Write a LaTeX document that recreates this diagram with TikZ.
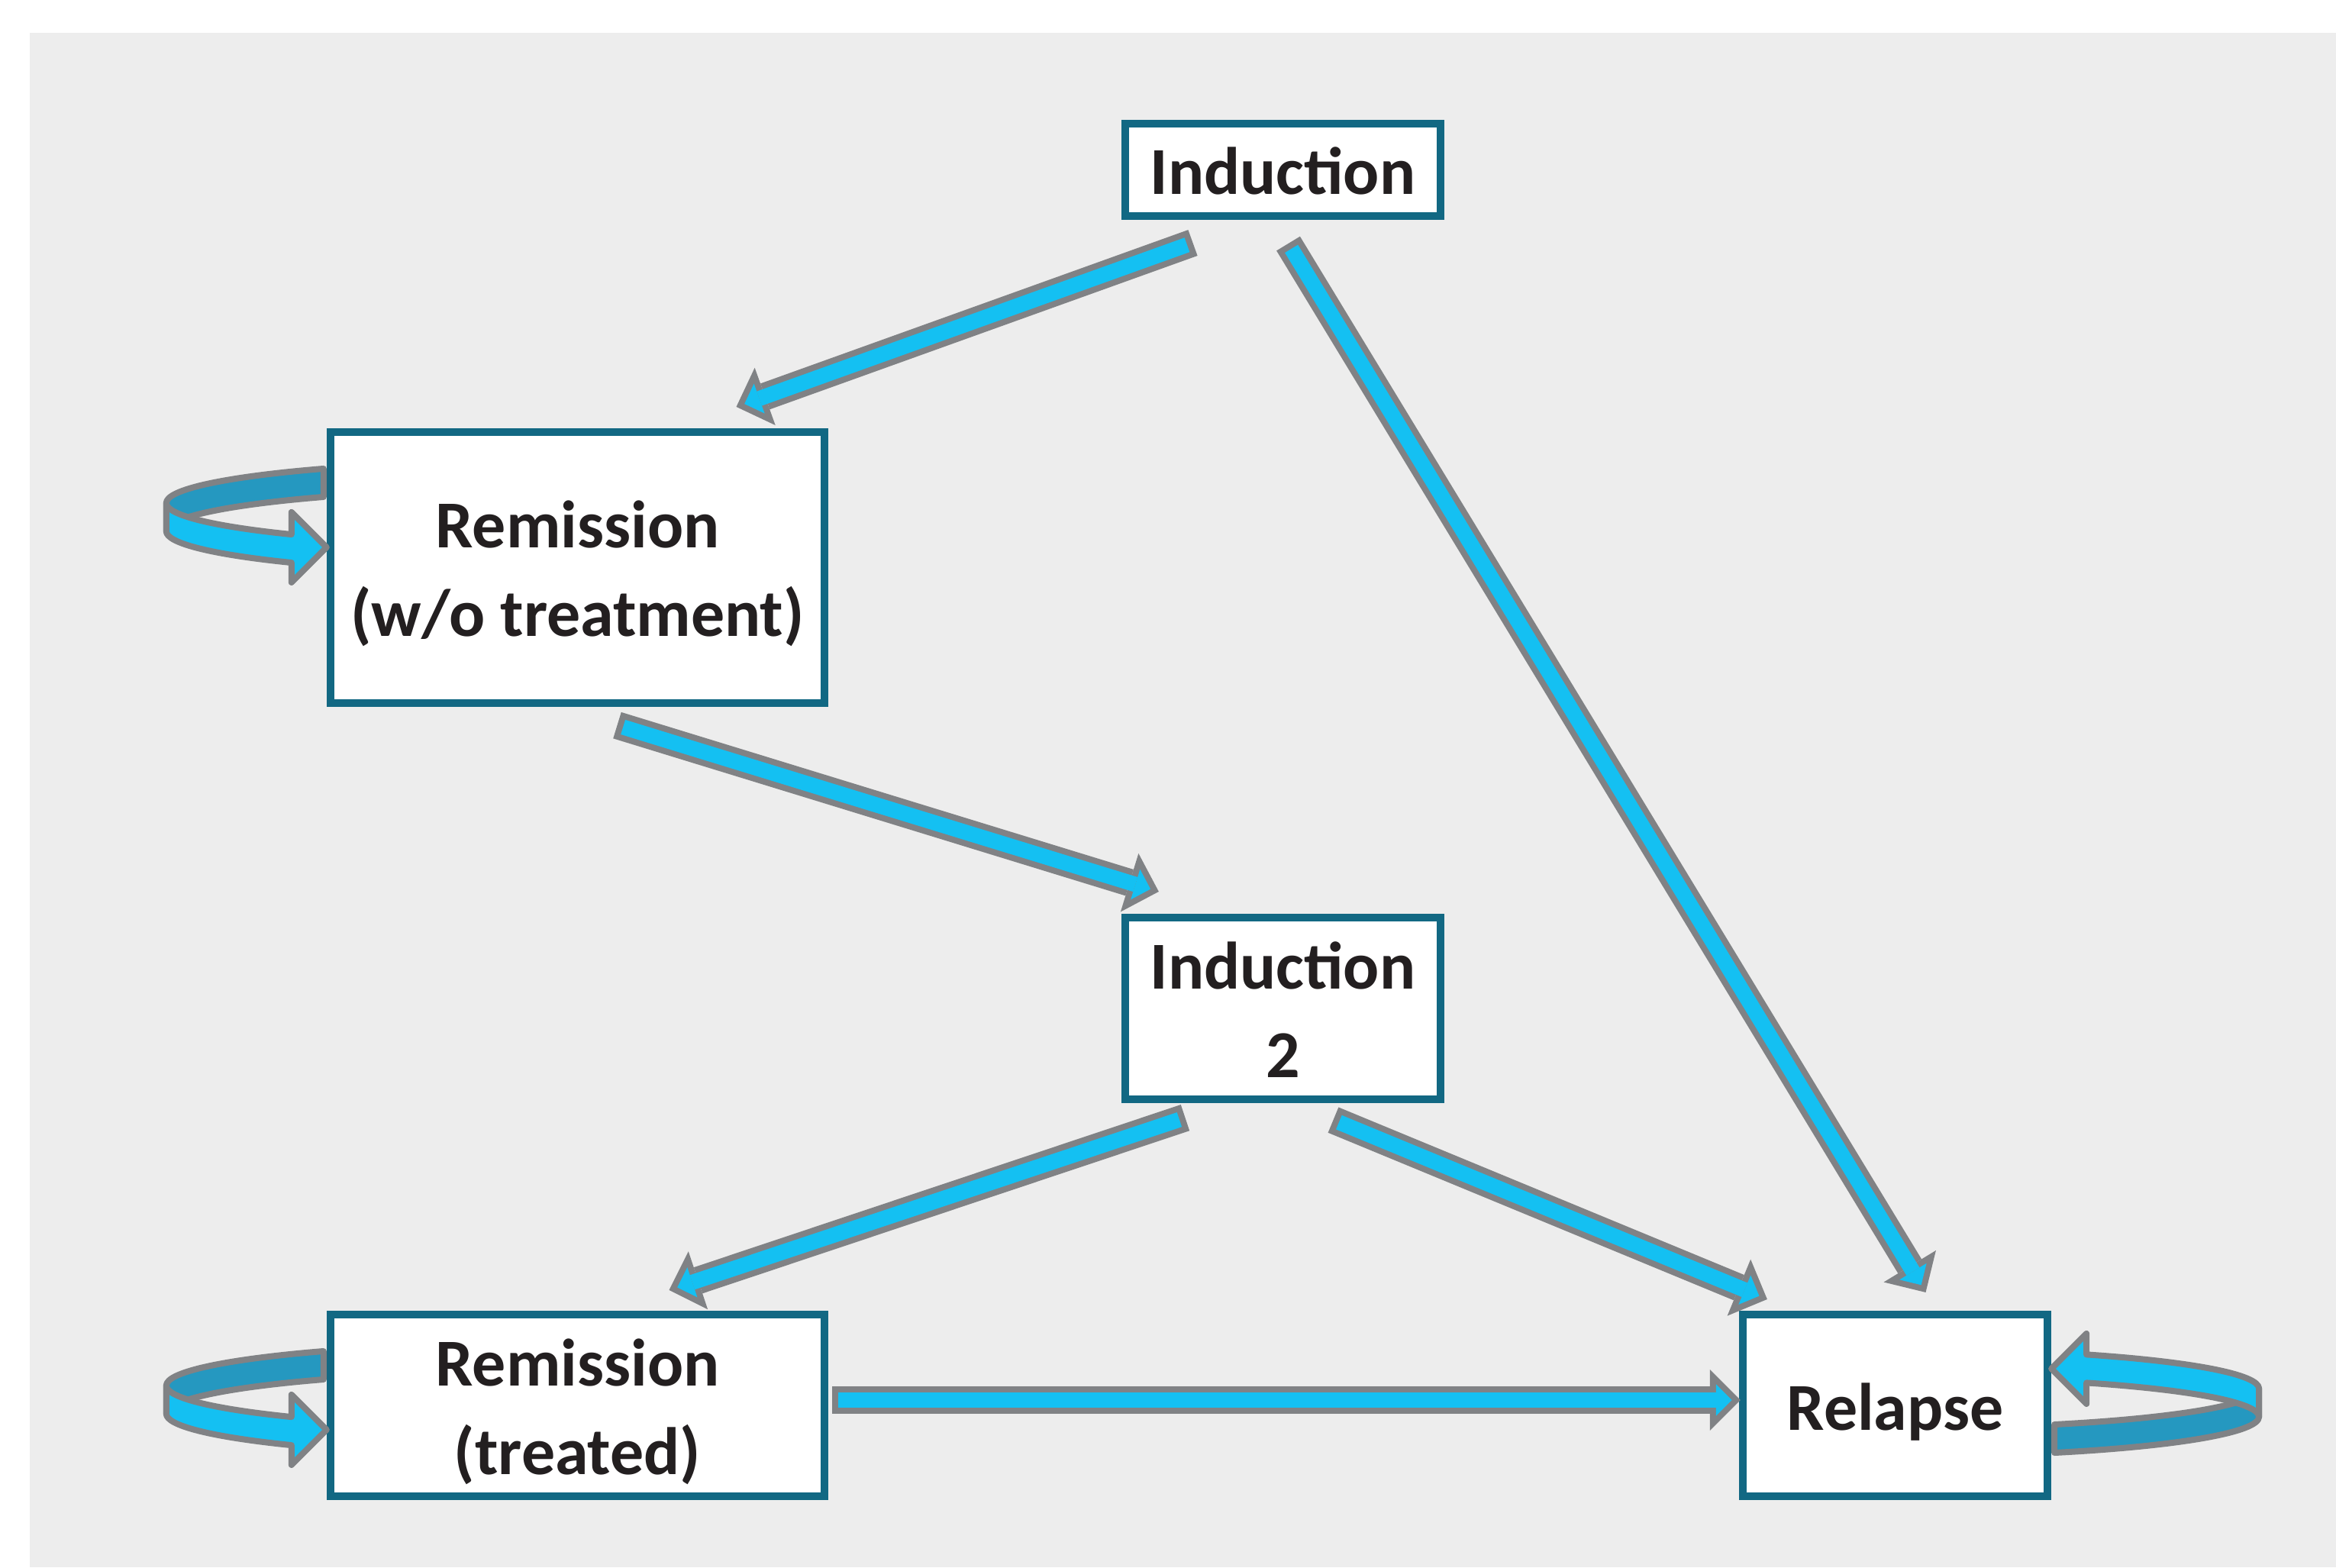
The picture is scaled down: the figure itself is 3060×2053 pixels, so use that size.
\documentclass[tikz,border=0pt]{standalone}
\usepackage{fontspec}
\setmainfont{Carlito}
\usetikzlibrary{arrows.meta}

\definecolor{boxblue}{RGB}{18,104,131}
\definecolor{arrowgray}{RGB}{128,130,133}
\definecolor{arrowcyan}{RGB}{20,192,242}
\definecolor{loopdark}{RGB}{37,152,192}
\definecolor{panelgray}{RGB}{237,237,237}
\definecolor{textblack}{RGB}{35,31,32}

\tikzset{
  stage/.style={rectangle, draw=boxblue, line width=0.1cm, fill=white, text=textblack,
    font=\bfseries\fontsize{25}{33}\selectfont, align=center, inner sep=0pt},
  arrowout/.style={draw=arrowgray, line width=0.36cm,
    -{Triangle[length=0.40cm, width=0.80cm, line width=0pt]}},
  arrowin/.style={draw=arrowcyan, line width=0.20cm, shorten <=0.08cm, shorten >=0.113cm,
    -{Triangle[length=0.207cm, width=0.414cm, line width=0pt]}},
  loopback/.style={fill=loopdark, draw=arrowgray, line width=0.08cm, line join=round},
  loopfront/.style={fill=arrowcyan, draw=arrowgray, line width=0.08cm, line join=round},
}

% same line height for every text line
\newcommand{\lnstrut}{\rule[-0.17cm]{0pt}{0.98cm}}

% block arrow: grey outline first, cyan body on top
\newcommand{\blockarrow}[2]{\draw[arrowout] #1 -- #2; \draw[arrowin] #1 -- #2;}

% ribbon loop, head tip at the local origin
\newcommand{\selfloop}[4]{%
  \pgfmathsetmacro{\loopend}{180+acos((#1+4)/#2)}
  \pgfmathsetmacro{\loopbase}{180-acos((#1+46)/#2)}
  \filldraw[loopback] ({#1+#2*cos(\loopend)},{#4+#3*sin(\loopend)})
    arc[start angle=\loopend, end angle=180, x radius=#2, y radius=#3] -- ++(0,37)
    arc[start angle=180, end angle=\loopend, x radius=#2, y radius=#3] -- cycle;
  \filldraw[loopfront] ({#1-#2},#4)
    arc[start angle=180, end angle=\loopbase, x radius=#2, y radius=#3]
    -- (-46,-46) -- (0,0) -- (-46,46) -- (-46,{#4+37+#3*sin(\loopbase)})
    arc[start angle=\loopbase, end angle=180, x radius=#2, y radius=#3] -- cycle;
}

\begin{document}
\begin{tikzpicture}[x=0.01cm, y=-0.01cm]

\useasboundingbox (0,0) rectangle (3060,2053);
\fill[panelgray] (39,43) rectangle (3060,2053);

\node (ind) [stage, minimum width=4.13cm, minimum height=1.21cm] at (1680.5,222.5) {\lnstrut Induction};
\node (rem1) [stage, minimum width=6.47cm, minimum height=3.55cm] at (756.5,743.5) {\lnstrut Remission\\\lnstrut(w/o treatment)};
\node (ind2) [stage, minimum width=4.13cm, minimum height=2.38cm] at (1680.5,1321) {\lnstrut Induction\\\lnstrut 2};
\node (rem2) [stage, minimum width=6.47cm, minimum height=2.38cm] at (756.5,1841) {\lnstrut Remission\\\lnstrut(treated)};
\node (relapse) [stage, minimum width=3.99cm, minimum height=2.38cm] at (2482.5,1841) {\lnstrut Relapse};

\blockarrow{([shift={(-118,30)}]ind.south)}{([shift={(208,-28)}]rem1.north)}
\blockarrow{([shift={(7,31)}]ind.south)}{([shift={(40,-24)}]relapse.north)}
\blockarrow{([shift={(52,24)}]rem1.south)}{([shift={(49,-29)}]ind2.north west)}
\blockarrow{([shift={(-128,19)}]ind2.south)}{([shift={(120,-27)}]rem2.north)}
\blockarrow{([shift={(66,22)}]ind2.south)}{([shift={(37,-15)}]relapse.north west)}
\blockarrow{([shift={(5,-7)}]rem2.east)}{([shift={(2,-7)}]relapse.west)}

% self loops
\begin{scope}[shift={([shift={(0,156)}]rem1.north west)}]
  \selfloop{300}{510}{56}{-58}
\end{scope}
\begin{scope}[shift={([shift={(0,156)}]rem2.north west)}]
  \selfloop{300}{510}{56}{-58}
\end{scope}
\begin{scope}[shift={([shift={(0,76)}]relapse.north east)}, rotate=180]
  \selfloop{194}{466}{52}{-63}
\end{scope}

\end{tikzpicture}
\end{document}
